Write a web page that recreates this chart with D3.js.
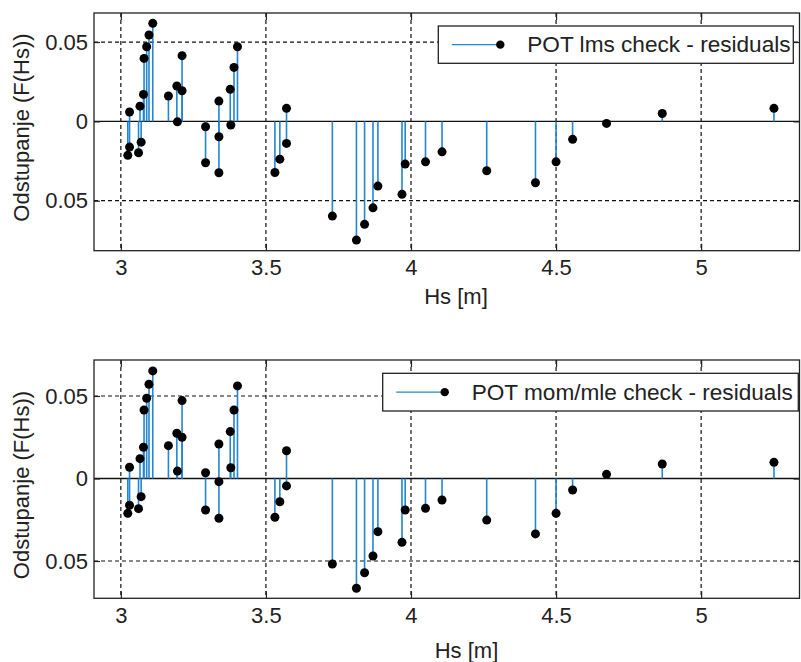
<!DOCTYPE html>
<html>
<head>
<meta charset="utf-8">
<script src="https://cdn.jsdelivr.net/npm/d3@7"></script>
<style>
  body { margin: 0; background: #fff; }
  svg text { font-family: "Liberation Sans", Arial, sans-serif; fill: #222; }
</style>
</head>
<body>
<svg id="chart" width="801" height="662"></svg>
<script>
// significant wave heights (x) shared by both panels
const hsValues = [
    3.024, 3.030, 3.030, 3.061, 3.066, 3.070, 3.078, 3.080, 3.089, 3.097,
    3.110, 3.164, 3.193, 3.195, 3.211, 3.211, 3.292, 3.292, 3.338, 3.338,
    3.338, 3.377, 3.379, 3.390, 3.402, 3.531, 3.548, 3.571, 3.571, 3.729,
    3.812, 3.840, 3.869, 3.886, 3.969, 3.980, 4.050, 4.107, 4.261, 4.429,
    4.500, 4.557, 4.674, 4.866, 5.251
];
const residualsLms = [
    -0.0214, -0.0162, 0.0059, -0.0198, 0.0096, -0.0131, 0.0170, 0.0397, 0.0470, 0.0544,
    0.0618, 0.0160, 0.0223, -0.0003, 0.0193, 0.0414, -0.0034, -0.0261, 0.0128, -0.0097,
    -0.0324, 0.0202, -0.0023, 0.0340, 0.0470, -0.0322, -0.0238, 0.0082, -0.0139, -0.0597,
    -0.0748, -0.0649, -0.0545, -0.0408, -0.0460, -0.0269, -0.0255, -0.0192, -0.0311, -0.0387,
    -0.0255, -0.0113, -0.0013, 0.0050, 0.0082
];
const residualsMomMle = [
    -0.0211, -0.0162, 0.0068, -0.0183, 0.0120, -0.0110, 0.0189, 0.0415, 0.0486, 0.0571,
    0.0652, 0.0199, 0.0274, 0.0045, 0.0250, 0.0472, 0.0035, -0.0191, 0.0209, -0.0019,
    -0.0241, 0.0284, 0.0065, 0.0415, 0.0561, -0.0235, -0.0141, 0.0168, -0.0045, -0.0518,
    -0.0665, -0.0571, -0.0470, -0.0322, -0.0387, -0.0191, -0.0181, -0.0130, -0.0252, -0.0336,
    -0.0211, -0.0070, 0.0025, 0.0088, 0.0098
];
const xTicks = [3, 3.5, 4, 4.5, 5];
const xTickLabels = ["3", "3.5", "4", "4.5", "5"];
const yTicks = [-0.05, 0, 0.05];
const yTickLabels = ["0.05", "0", "0.05"];
const xLabel = "Hs [m]";
const yLabel = "Odstupanje (F(Hs))";
const legendLms = "POT lms check - residuals";
const legendMomMle = "POT mom/mle check - residuals";

const STEM_COLOR = "#2286d2";
const FONT_SIZE = 22;

let svg = d3.select("#chart");

drawPanel({
    values: residualsLms,
    legend: legendLms,
    box: { left: 94, top: 13, right: 799.5, bottom: 250.7 },
    xDomain: [2.9075, 5.339],
    yDomain: [-0.0815, 0.0683],
    legendBox: { x: 438.3, y: 26, w: 355, h: 37.3 },
    xLabelPos: [456, 304],
    yLabelPos: [29, 127.5]
});

drawPanel({
    values: residualsMomMle,
    legend: legendMomMle,
    box: { left: 94, top: 360, right: 799.5, bottom: 598.3 },
    xDomain: [2.9075, 5.339],
    yDomain: [-0.0726, 0.0718],
    legendBox: { x: 382.7, y: 373.3, w: 415.6, h: 37.7 },
    xLabelPos: [466.5, 658],
    yLabelPos: [29, 485]
});

function drawPanel(cfg) {
    let b = cfg.box;
    let w = b.right - b.left;
    let h = b.bottom - b.top;

    let x = d3.scaleLinear().domain(cfg.xDomain).range([0, w]);
    let y = d3.scaleLinear().domain(cfg.yDomain).range([h, 0]);

    let g = svg.append("g").attr("transform", "translate(" + b.left + "," + b.top + ")");

    // dashed grid
    g.append("g").selectAll("line.gx")
        .data(xTicks).join("line")
        .attr("x1", d => x(d)).attr("x2", d => x(d))
        .attr("y1", 0).attr("y2", h)
        .attr("stroke", "#111").attr("stroke-width", 1.2)
        .attr("stroke-dasharray", "4,3");
    g.append("g").selectAll("line.gy")
        .data(yTicks.filter(d => d !== 0)).join("line")
        .attr("x1", 0).attr("x2", w)
        .attr("y1", d => y(d)).attr("y2", d => y(d))
        .attr("stroke", "#111").attr("stroke-width", 1.2)
        .attr("stroke-dasharray", "4,3");

    // baseline
    g.append("line")
        .attr("x1", 0).attr("x2", w)
        .attr("y1", y(0)).attr("y2", y(0))
        .attr("stroke", "#111").attr("stroke-width", 1.4);

    let pts = hsValues.map((hs, i) => ({ hs: hs, v: cfg.values[i] }));

    // stems
    g.append("g").selectAll("line")
        .data(pts).join("line")
        .attr("x1", d => x(d.hs)).attr("x2", d => x(d.hs))
        .attr("y1", y(0)).attr("y2", d => y(d.v))
        .attr("stroke", STEM_COLOR).attr("stroke-width", 1.6);

    // markers
    g.append("g").selectAll("circle")
        .data(pts).join("circle")
        .attr("cx", d => x(d.hs)).attr("cy", d => y(d.v))
        .attr("r", 4.5).attr("fill", "#000");

    // inner ticks (matlab style)
    let axB = d3.axisTop(x).tickValues(xTicks).tickSize(7).tickFormat("");
    let axT = d3.axisBottom(x).tickValues(xTicks).tickSize(7).tickFormat("");
    let axL = d3.axisRight(y).tickValues(yTicks).tickSize(6).tickFormat("");
    let axR = d3.axisLeft(y).tickValues(yTicks).tickSize(6).tickFormat("");
    [
        [axB, "translate(0," + h + ")"],
        [axT, "translate(0,0)"],
        [axL, "translate(0,0)"],
        [axR, "translate(" + w + ",0)"]
    ].forEach(a => {
        let ag = g.append("g").attr("transform", a[1]).call(a[0]);
        ag.select(".domain").remove();
        ag.selectAll("line").attr("stroke", "#222").attr("stroke-width", 1.2);
    });

    // tick labels
    let xl = g.append("g").attr("transform", "translate(0," + h + ")")
        .call(d3.axisBottom(x).tickValues(xTicks).tickSize(0).tickPadding(9)
            .tickFormat((d, i) => xTickLabels[i]));
    xl.select(".domain").remove();
    xl.selectAll("text").attr("font-size", FONT_SIZE).attr("font-family", null).attr("fill", "#222");

    let yl = g.append("g")
        .call(d3.axisLeft(y).tickValues(yTicks).tickSize(0).tickPadding(6)
            .tickFormat((d, i) => yTickLabels[i]));
    yl.select(".domain").remove();
    yl.selectAll("text").attr("font-size", FONT_SIZE).attr("font-family", null).attr("fill", "#222");

    // box
    g.append("rect")
        .attr("x", 0).attr("y", 0).attr("width", w).attr("height", h)
        .attr("fill", "none").attr("stroke", "#222").attr("stroke-width", 1.3);

    // axis titles
    svg.append("text")
        .attr("x", cfg.xLabelPos[0]).attr("y", cfg.xLabelPos[1])
        .attr("text-anchor", "middle").attr("font-size", FONT_SIZE)
        .text(xLabel);
    svg.append("text")
        .attr("transform", "translate(" + cfg.yLabelPos[0] + "," + cfg.yLabelPos[1] + ") rotate(-90)")
        .attr("text-anchor", "middle").attr("font-size", FONT_SIZE)
        .text(yLabel);

    // legend
    let lb = cfg.legendBox;
    let lg = svg.append("g").attr("transform", "translate(" + lb.x + "," + lb.y + ")");
    lg.append("rect")
        .attr("width", lb.w).attr("height", lb.h)
        .attr("fill", "#fff").attr("stroke", "#222").attr("stroke-width", 1.3);
    let cy = lb.h / 2;
    lg.append("line")
        .attr("x1", 13.5).attr("x2", 62).attr("y1", cy).attr("y2", cy)
        .attr("stroke", STEM_COLOR).attr("stroke-width", 1.4);
    lg.append("circle").attr("cx", 62).attr("cy", cy).attr("r", 4.2).attr("fill", "#000");
    lg.append("text")
        .attr("x", 89).attr("y", cy + 7.5)
        .attr("font-size", 22.6)
        .text(cfg.legend);
}
</script>
</body>
</html>
